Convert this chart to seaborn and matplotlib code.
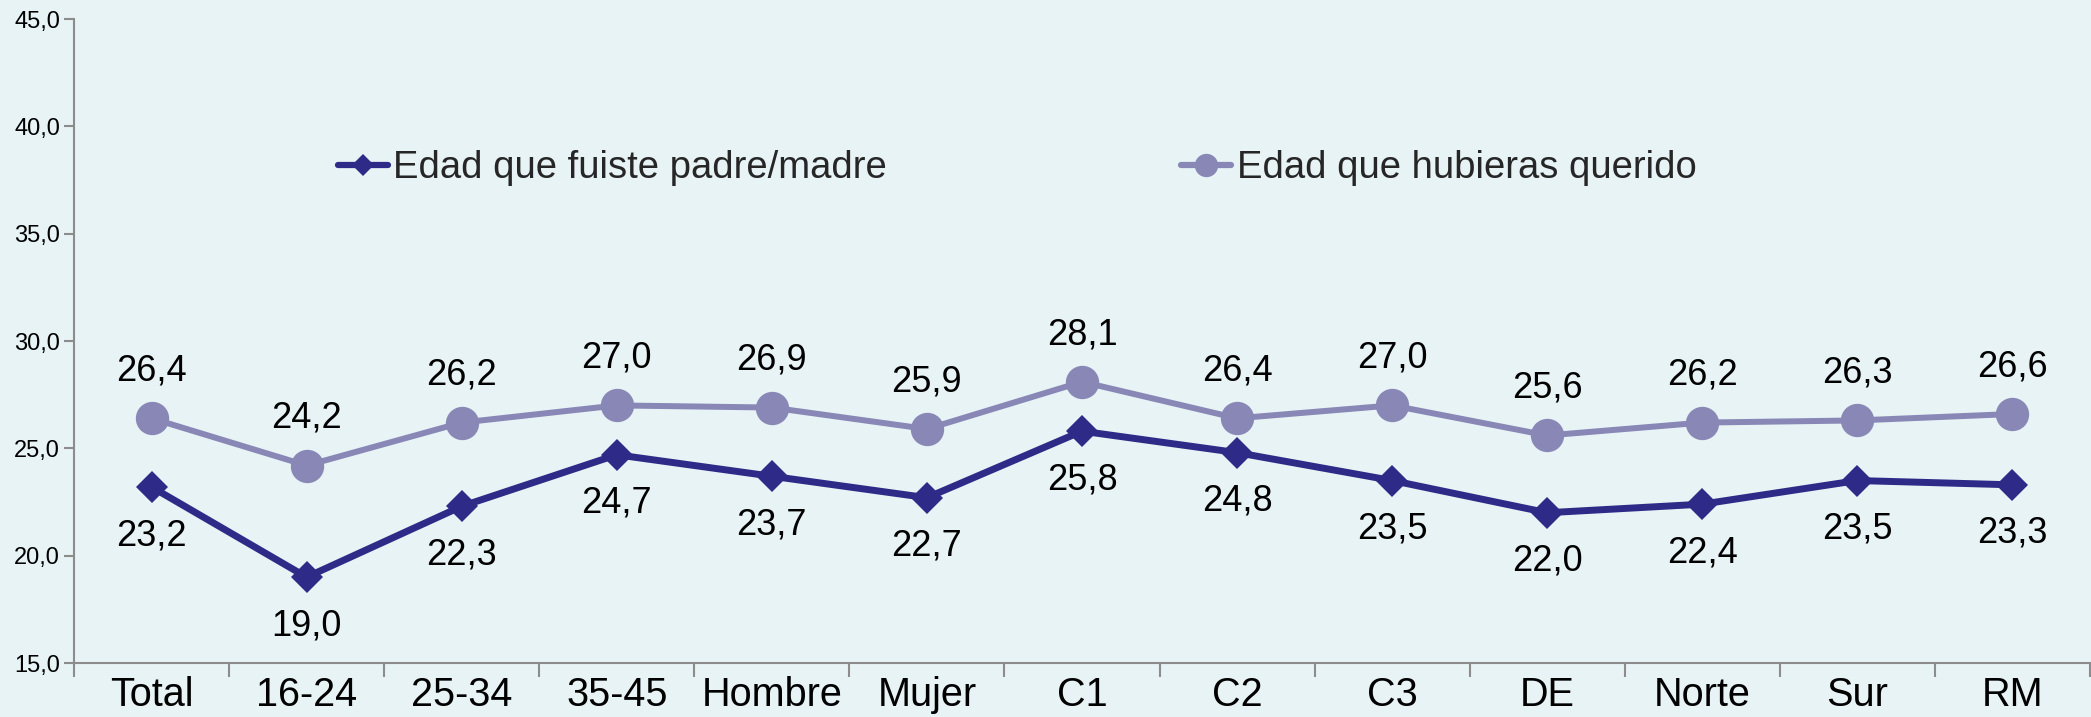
import pandas as pd
import numpy as np
import matplotlib
matplotlib.use('Agg')
import matplotlib.pyplot as plt
from matplotlib.ticker import FuncFormatter, FixedLocator
import seaborn as sns

sns.set_theme(style='white')
plt.rcParams['font.family'] = ['Liberation Sans', 'DejaVu Sans']

# data
categories = ['Total', '16-24', '25-34', '35-45', 'Hombre', 'Mujer', 'C1', 'C2', 'C3', 'DE', 'Norte', 'Sur', 'RM']
edad_padre = [23.2, 19.0, 22.3, 24.7, 23.7, 22.7, 25.8, 24.8, 23.5, 22.0, 22.4, 23.5, 23.3]
edad_querido = [26.4, 24.2, 26.2, 27.0, 26.9, 25.9, 28.1, 26.4, 27.0, 25.6, 26.2, 26.3, 26.6]
series_names = ['Edad que fuiste padre/madre', 'Edad que hubieras querido']
yticks = [15, 20, 25, 30, 35, 40, 45]

bg = '#E7F3F5'
dark = '#2E2A87'
light = '#8887B6'
spine_col = '#8C8C8C'

df = pd.DataFrame({'pos': np.arange(len(categories)), 'categoria': categories,
                   series_names[0]: edad_padre, series_names[1]: edad_querido})

fig, ax = plt.subplots(figsize=(20.91, 7.17), dpi=100, facecolor=bg)
ax.set_facecolor(bg)
plt.subplots_adjust(left=0.0354, right=0.9995, bottom=0.0753, top=0.9735)

sns.lineplot(data=df, x='pos', y=series_names[0], ax=ax, color=dark, lw=5,
             marker='D', markersize=16, markeredgewidth=0, label=series_names[0])
sns.lineplot(data=df, x='pos', y=series_names[1], ax=ax, color=light, lw=4.3,
             marker='o', markersize=24, markeredgewidth=0, label=series_names[1])

# value labels
for x, v in zip(df['pos'], edad_padre):
    ax.annotate(f'{v:.1f}'.replace('.', ','), (x, v), xytext=(0, -35), textcoords='offset points',
                ha='center', va='center', fontsize=26, color='black')
for x, v in zip(df['pos'], edad_querido):
    ax.annotate(f'{v:.1f}'.replace('.', ','), (x, v), xytext=(0, 34), textcoords='offset points',
                ha='center', va='center', fontsize=26, color='black')

ax.set_xlim(-0.5, len(categories) - 0.5)
ax.set_ylim(15, 45)
ax.set_yticks(yticks)
ax.yaxis.set_major_formatter(FuncFormatter(lambda v, p: f'{v:.1f}'.replace('.', ',')))
ax.set_xticks(df['pos'])
ax.set_xticklabels(categories)
ax.xaxis.set_minor_locator(FixedLocator(np.arange(len(categories) + 1) - 0.5))
ax.tick_params(axis='x', which='major', length=0, labelsize=28.5, pad=9, labelcolor='black')
ax.tick_params(axis='x', which='minor', length=10, width=1.5, color=spine_col, direction='out', bottom=True)
ax.tick_params(axis='y', length=7, width=1.5, color=spine_col, labelsize=17, pad=3, left=True, labelcolor='black')
ax.set_xlabel('')
ax.set_ylabel('')

for s in ['top', 'right']:
    ax.spines[s].set_visible(False)
for s in ['left', 'bottom']:
    ax.spines[s].set_color(spine_col)
    ax.spines[s].set_linewidth(1.5)

leg = ax.legend(ncol=2, loc='center left', bbox_to_anchor=(0.131, 0.768), frameon=False,
                fontsize=27.5, handlelength=1.3, handletextpad=0.15, columnspacing=7.7,
                borderpad=0, borderaxespad=0, markerscale=0.7)
for h in leg.legend_handles:
    h.set_linewidth(4.5)

fig.savefig('out.png', dpi=100, facecolor=bg)
